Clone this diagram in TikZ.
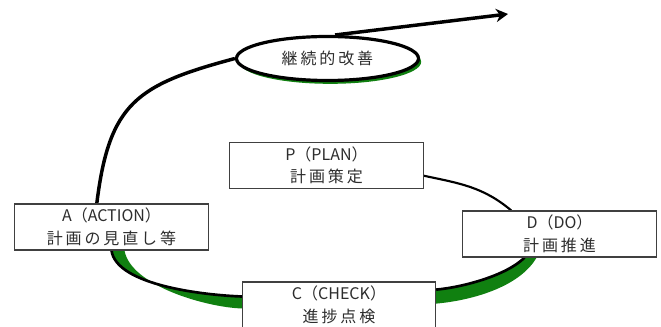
\documentclass[tikz,border=0pt]{standalone}
\usepackage{fontspec}
\newfontfamily\jpfont{Noto Sans CJK JP}
\newfontfamily\jpwide[LetterSpace=18]{Noto Sans CJK JP}
\usetikzlibrary{arrows.meta}
\usetikzlibrary{shapes.geometric,shadows}
\usetikzlibrary{backgrounds}
\definecolor{ribbon}{RGB}{16,128,16}
\definecolor{ink}{RGB}{45,45,45}

\begin{document}
\begin{tikzpicture}[x=.75pt,y=-.75pt,
  stage/.style={draw=black!75, line width=.8pt, fill=white, align=center, inner sep=0pt,
    minimum width=145pt, minimum height=34.5pt, text=ink,
    font=\fontsize{12}{17}\jpfont},
  goal/.style={ellipse, draw=black, line width=2.4pt, fill=white, inner sep=0pt,
    minimum width=136.5pt, minimum height=33pt, text=ink, font=\fontsize{12}{17}\jpfont,
    drop shadow={fill=ribbon, opacity=1, shadow xshift=2pt, shadow yshift=-2.5pt}},
  edge/.style={black, line width=2pt}]
\useasboundingbox (0,0) rectangle (661,327);
% stages of the cycle
\node[stage] (P) at (326.5,165.5) {P（PLAN）\\\jpwide 計画策定};
\node[stage] (D) at (559.5,234) {D（DO）\\\jpwide 計画推進};
\node[stage] (C) at (339,305) {C（CHECK）\\\jpwide 進捗点検};
\node[stage] (A) at (111.5,227) {A（ACTION）\\\jpwide 計画の見直し等};
\node[goal] (kaizen) at (327.5,58.5) {\jpwide 継続的改善};
\coordinate (tip) at (508,14);
\begin{scope}[on background layer]
\fill[white] (0,0) rectangle (661,327);
\draw[line width=1.6pt] (P.-6) to[out=-12,in=140] (D.154);
% green ribbon under the lower half
\fill[ribbon] (D.-146) to[out=-135,in=5,looseness=.7] (C.9) -- ([shift={(0,14)}]C.9)
  to[out=5,in=-120,looseness=.8] ([shift={(12,0)}]D.-146) -- cycle;
\fill[ribbon] (C.175) to[out=178,in=-82,looseness=.66] (A.south) -- ([shift={(13,0)}]A.south)
  to[out=-80,in=178,looseness=.7] ([shift={(0,12)}]C.175) -- cycle;
\draw[edge] (D.-146) to[out=-135,in=5,looseness=.7] (C.9)
  (C.175) to[out=178,in=-82,looseness=.66] (A.south);
\draw[line width=2.6pt] (A.122) to[out=83,in=195,looseness=1.3] (kaizen.west);
\draw[line width=2.6pt, -{Stealth[length=9pt,width=10pt]}] (kaizen.72) -- (tip);
\end{scope}
\end{tikzpicture}
\end{document}
